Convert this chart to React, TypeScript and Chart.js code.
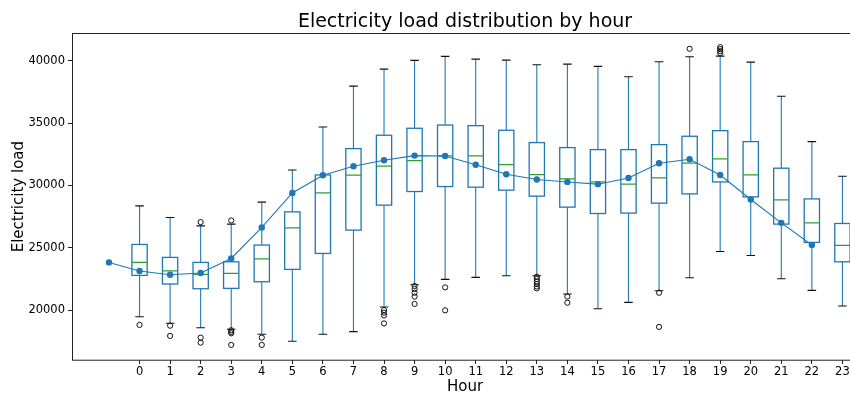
import { useEffect, useRef } from 'react';
import { Chart, registerables } from 'chart.js';

Chart.register(...registerables);
Chart.defaults.font.family = "'DejaVu Sans', 'Liberation Sans', sans-serif";

// Hour-of-day categories (boxes sit at positions 1..24)
const hourLabels = [
  '0', '1', '2', '3', '4', '5', '6', '7', '8', '9', '10', '11',
  '12', '13', '14', '15', '16', '17', '18', '19', '20', '21', '22', '23',
];

// Box statistics per hour
const whiskerLow = [19480, 18950, 18600, 18470, 18070, 17510, 18070, 18280, 20260, 22040, 22470, 22630, 22760, 22760, 21300, 20120, 20630, 21560, 22600, 24710, 24390, 22520, 21590, 20340];
const quartile1 = [22790, 22100, 21720, 21750, 22280, 23270, 24550, 26420, 28420, 29510, 29910, 29860, 29620, 29140, 28260, 27750, 27780, 28580, 29320, 30280, 29080, 26900, 25430, 23880];
const medians = [23830, 23160, 22870, 22950, 24120, 26600, 29400, 30820, 31540, 31990, 32360, 32360, 31660, 30870, 30520, 30280, 30100, 30600, 31780, 32120, 30840, 28840, 27000, 25190];
const quartile3 = [25270, 24230, 23830, 23880, 25220, 27880, 30840, 32950, 34020, 34580, 34840, 34790, 34420, 33430, 33030, 32870, 32870, 33270, 33940, 34390, 33510, 31380, 28920, 26950];
const whiskerHigh = [28360, 27430, 26760, 26900, 28660, 31240, 34680, 37960, 39320, 40020, 40340, 40120, 40040, 39670, 39720, 39540, 38710, 39910, 40310, 40360, 39880, 37140, 33510, 30740];

// Outliers per hour
const fliers: number[][] = [
  [18820],
  [18760, 17940],
  [27060, 17800, 17400],
  [27190, 18390, 18260, 18150, 17220],
  [17800, 17220],
  [], [], [],
  [20010, 19800, 19580, 18940],
  [21940, 21700, 21400, 21090, 20500],
  [21830, 19990],
  [], [],
  [22680, 22500, 22300, 22100, 21900, 21750],
  [21090, 20600],
  [], [],
  [21400, 18660],
  [40950],
  [41080, 40920, 40760, 40600],
  [], [], [], [],
];

// Hourly average profile, plotted at positions 0..23
const hourlyMean = [23830, 23140, 22840, 22980, 24150, 26630, 29400, 30820, 31540, 32020, 32390, 32360, 31660, 30900, 30470, 30280, 30100, 30600, 31780, 32100, 30830, 28870, 27000, 25220];

const yTicks = [20000, 25000, 30000, 35000, 40000];

const X_MIN = -1.21;
const X_MAX = 24.51;
const Y_MIN = 16010;
const Y_MAX = 42190;

const BLUE = '#1f77b4';
const GREEN = '#2ca02c';
const BOX_WIDTH = 0.5;
const CAP_WIDTH = 0.28;

const boxPlugin = {
  id: 'hourBoxes',
  beforeDatasetsDraw(chart: any) {
    const { ctx, chartArea, scales } = chart;
    const x = scales.x;
    const y = scales.y;
    ctx.save();
    ctx.beginPath();
    ctx.rect(chartArea.left, chartArea.top, chartArea.right - chartArea.left, chartArea.bottom - chartArea.top);
    ctx.clip();
    const seg = (x1: number, y1: number, x2: number, y2: number) => {
      ctx.beginPath();
      ctx.moveTo(x1, y1);
      ctx.lineTo(x2, y2);
      ctx.stroke();
    };
    hourLabels.forEach((_, i) => {
      const pos = i + 1;
      const cx = x.getPixelForValue(pos);
      const half = x.getPixelForValue(pos + BOX_WIDTH / 2) - cx;
      const capHalf = x.getPixelForValue(pos + CAP_WIDTH / 2) - cx;
      const yLo = y.getPixelForValue(whiskerLow[i]);
      const yQ1 = y.getPixelForValue(quartile1[i]);
      const yMed = y.getPixelForValue(medians[i]);
      const yQ3 = y.getPixelForValue(quartile3[i]);
      const yHi = y.getPixelForValue(whiskerHigh[i]);

      // whiskers
      ctx.strokeStyle = BLUE;
      ctx.lineWidth = 1.1;
      seg(cx, yLo, cx, yQ1);
      seg(cx, yQ3, cx, yHi);

      // caps
      ctx.strokeStyle = '#111';
      ctx.lineWidth = 1.1;
      seg(cx - capHalf, yLo, cx + capHalf, yLo);
      seg(cx - capHalf, yHi, cx + capHalf, yHi);

      // box
      ctx.strokeStyle = BLUE;
      ctx.lineWidth = 1.3;
      ctx.fillStyle = '#ffffff';
      ctx.fillRect(cx - half, yQ3, 2 * half, yQ1 - yQ3);
      ctx.strokeRect(cx - half, yQ3, 2 * half, yQ1 - yQ3);

      // median
      ctx.strokeStyle = GREEN;
      ctx.lineWidth = 1.3;
      seg(cx - half, yMed, cx + half, yMed);
    });
    ctx.restore();
  },
  afterDatasetsDraw(chart: any) {
    const { ctx, chartArea } = chart;
    ctx.save();
    ctx.strokeStyle = '#222';
    ctx.lineWidth = 1;
    ctx.strokeRect(
      Math.round(chartArea.left) + 0.5,
      Math.round(chartArea.top) + 0.5,
      chartArea.right - chartArea.left,
      chartArea.bottom - chartArea.top,
    );
    ctx.restore();
  },
};

export default function App() {
  const canvasRef = useRef<HTMLCanvasElement>(null);

  useEffect(() => {
    document.body.style.margin = '0';
    const canvas = canvasRef.current;
    if (!canvas) return;

    const meanPoints = hourlyMean.map((v, i) => ({ x: i, y: v }));
    const flierPoints: { x: number; y: number }[] = [];
    fliers.forEach((vals, i) => vals.forEach((v) => flierPoints.push({ x: i + 1, y: v })));

    const chart = new Chart(canvas, {
      type: 'scatter',
      data: {
        datasets: [
          {
            data: meanPoints,
            showLine: true,
            borderColor: BLUE,
            borderWidth: 1.1,
            backgroundColor: BLUE,
            pointRadius: 3.2,
            pointBorderWidth: 0,
            tension: 0,
          },
          {
            data: flierPoints,
            showLine: false,
            borderColor: '#111',
            backgroundColor: 'rgba(0,0,0,0)',
            pointRadius: 2.6,
            pointBorderWidth: 1,
          },
        ],
      },
      options: {
        animation: false,
        responsive: false,
        devicePixelRatio: 1,
        layout: { padding: { left: 0, right: 8, top: 0, bottom: 0 } },
        plugins: {
          legend: { display: false },
          tooltip: { enabled: false },
          title: {
            display: true,
            text: 'Electricity load distribution by hour',
            fullSize: false,
            color: '#000',
            font: { size: 19, weight: 'normal' },
            padding: { top: 10.5, bottom: 0 },
          },
        },
        scales: {
          x: {
            type: 'linear',
            min: X_MIN,
            max: X_MAX,
            afterBuildTicks: (s: any) => {
              s.ticks = hourLabels.map((_, i) => ({ value: i + 1 }));
            },
            afterFit: (s: any) => {
              s.height = 36;
            },
            ticks: {
              autoSkip: false,
              maxRotation: 0,
              padding: 1,
              color: '#000',
              font: { size: 11.5 },
              callback: (v: any) => hourLabels[Number(v) - 1] ?? '',
            },
            grid: { display: true, drawOnChartArea: false, drawTicks: true, tickLength: 4, color: '#222' },
            border: { display: false },
            title: {
              display: true,
              text: 'Hour',
              color: '#000',
              font: { size: 15 },
              padding: { top: 0, bottom: 0 },
            },
          },
          y: {
            type: 'linear',
            min: Y_MIN,
            max: Y_MAX,
            afterBuildTicks: (s: any) => {
              s.ticks = yTicks.map((v) => ({ value: v }));
            },
            afterFit: (s: any) => {
              s.width = 72;
            },
            ticks: {
              padding: 3,
              color: '#000',
              font: { size: 11.5 },
              callback: (v: any) => String(v),
            },
            grid: { display: true, drawOnChartArea: false, drawTicks: true, tickLength: 4, color: '#222' },
            border: { display: false },
            title: {
              display: true,
              text: 'Electricity load',
              color: '#000',
              font: { size: 15 },
              padding: { top: 10, bottom: 0 },
            },
          },
        },
      },
      plugins: [boxPlugin],
    } as any);

    return () => chart.destroy();
  }, []);

  return (
    <div style={{ width: 850, height: 396, overflow: 'hidden', position: 'relative' }}>
      <canvas ref={canvasRef} width={866} height={396} style={{ display: 'block', width: 866, height: 396 }} />
    </div>
  );
}
